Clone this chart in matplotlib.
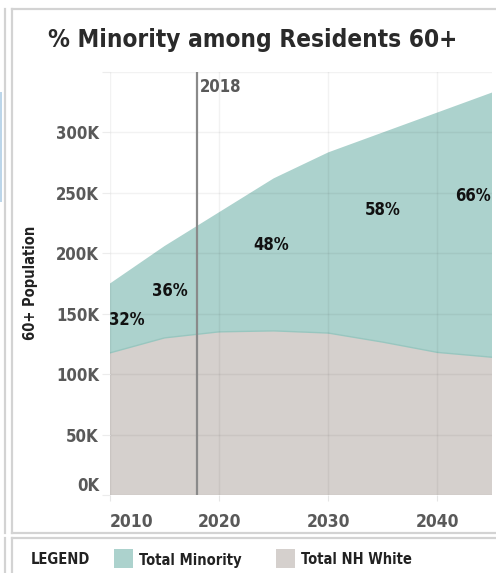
import matplotlib
matplotlib.use("Agg")
import matplotlib.pyplot as plt
from matplotlib.lines import Line2D
from matplotlib.patches import Rectangle

# data
years = [2010, 2015, 2020, 2025, 2030, 2035, 2040, 2045]
nh_white = [117600, 130000, 135000, 135800, 134000, 126500, 118000, 114000]
total_60 = [175000, 206000, 234000, 262000, 283500, 300000, 316500, 333000]
minority = [t - w for t, w in zip(total_60, nh_white)]

label_years = [2011.5, 2015.5, 2024.8, 2035, 2043.3]
label_txt = ["32%", "36%", "48%", "58%", "66%"]
label_frac = [0.48, 0.51, 0.56, 0.63, 0.61]

yticks = [0, 50000, 100000, 150000, 200000, 250000, 300000, 350000]
ytick_lbl = ["0K", "50K", "100K", "150K", "200K", "250K", "300K", ""]
xticks = [2010, 2020, 2030, 2040]

c_min = "#acd2cd"
c_wht = "#d5d0cd"
c_tick = "#595959"
c_border = "#d3d3d3"

plt.rcParams["font.family"] = ["DejaVu Sans"]
plt.rcParams["font.stretch"] = "condensed"

W, H = 496, 573
fig = plt.figure(figsize=(W / 100, H / 100), dpi=100)

def fx(x):
    return x / W

def fy(y):
    return 1 - y / H

ax = fig.add_axes([fx(110), fy(495), fx(492) - fx(110), fy(72) - fy(495)])

ax.stackplot(years, nh_white, minority, colors=[c_wht, c_min], linewidth=0)
ax.plot(years, nh_white, color="#98c6bf", lw=1)

# 2018 reference line
ax.axvline(2018, color="#8a8a8a", lw=1.6, zorder=4)
ax.annotate("2018", xy=(2018, 1), xycoords=("data", "axes fraction"),
            xytext=(2, -4), textcoords="offset points", ha="left", va="top",
            fontsize=12, fontweight="bold", color=c_tick, zorder=5)

# percent labels
for yr, t, fr in zip(label_years, label_txt, label_frac):
    i = min(range(len(years)), key=lambda k: abs(years[k] - yr))
    yv = nh_white[i] + fr * minority[i]
    ax.text(yr, yv, t, ha="center", va="center", fontsize=12,
            fontweight="bold", color="#111111", zorder=5)

ax.set_xlim(2010, 2045)
ax.set_ylim(0, 350000)
ax.set_xticks(xticks)
ax.set_xticklabels([str(v) for v in xticks])
ax.set_yticks(yticks)
ax.set_yticklabels(ytick_lbl)

ax.grid(True, color="#000000", alpha=0.05, lw=1)
ax.set_axisbelow(False)
for s in ax.spines.values():
    s.set_visible(False)

ax.tick_params(axis="y", length=6, color="#ececec", pad=2, labelsize=12,
               labelcolor=c_tick)
ax.tick_params(axis="x", length=4, color="#e6e6e6", pad=9, labelsize=12.5,
               labelcolor=c_tick)
for lab in ax.get_yticklabels():
    lab.set_fontweight("bold")
for lab in ax.get_xticklabels():
    lab.set_fontweight("bold")
ax.get_yticklabels()[0].set_va("bottom")
ax.get_xticklabels()[0].set_ha("left")

ax.set_ylabel("60+ Population", fontsize=10.5, fontweight="bold",
              color="#222222")
ax.yaxis.set_label_coords((38 - 110) / (492 - 110), (495 - 283) / (495 - 72))

fig.text(fx(253), fy(40), "% Minority among Residents 60+", ha="center",
         va="center", fontsize=17.5, fontweight="bold", color="#2a2a2a")

# panel borders
def hline(y, x0, x1):
    fig.add_artist(Line2D([fx(x0), fx(x1)], [fy(y), fy(y)], color=c_border, lw=1.6))

def vline(x, y0, y1):
    fig.add_artist(Line2D([fx(x), fx(x)], [fy(y0), fy(y1)], color=c_border, lw=1.6))

hline(8.5, 11.5, W)
hline(533, 11.5, W)
hline(537.5, 11.5, W)
vline(11.5, 8.5, 533)
vline(11.5, 537.5, H)
vline(4.5, 8.5, 533)
vline(4.5, 537.5, H)
fig.add_artist(Rectangle((0, fy(202)), fx(1.5), fy(92) - fy(202),
                         transform=fig.transFigure, color="#bcd6ea", lw=0))

# legend strip
fig.text(fx(31), fy(559), "LEGEND", ha="left", va="center", fontsize=10.5,
         fontweight="bold", color="#222222")
fig.add_artist(Rectangle((fx(114), fy(568)), fx(19), fy(549) - fy(568),
                         transform=fig.transFigure, color=c_min, lw=0))
fig.text(fx(139), fy(560), "Total Minority", ha="left", va="center",
         fontsize=10.5, fontweight="bold", color="#222222")
fig.add_artist(Rectangle((fx(276), fy(568)), fx(19), fy(549) - fy(568),
                         transform=fig.transFigure, color=c_wht, lw=0))
fig.text(fx(301), fy(560), "Total NH White", ha="left", va="center",
         fontsize=10.5, fontweight="bold", color="#222222")

fig.savefig("out.png", dpi=100)
